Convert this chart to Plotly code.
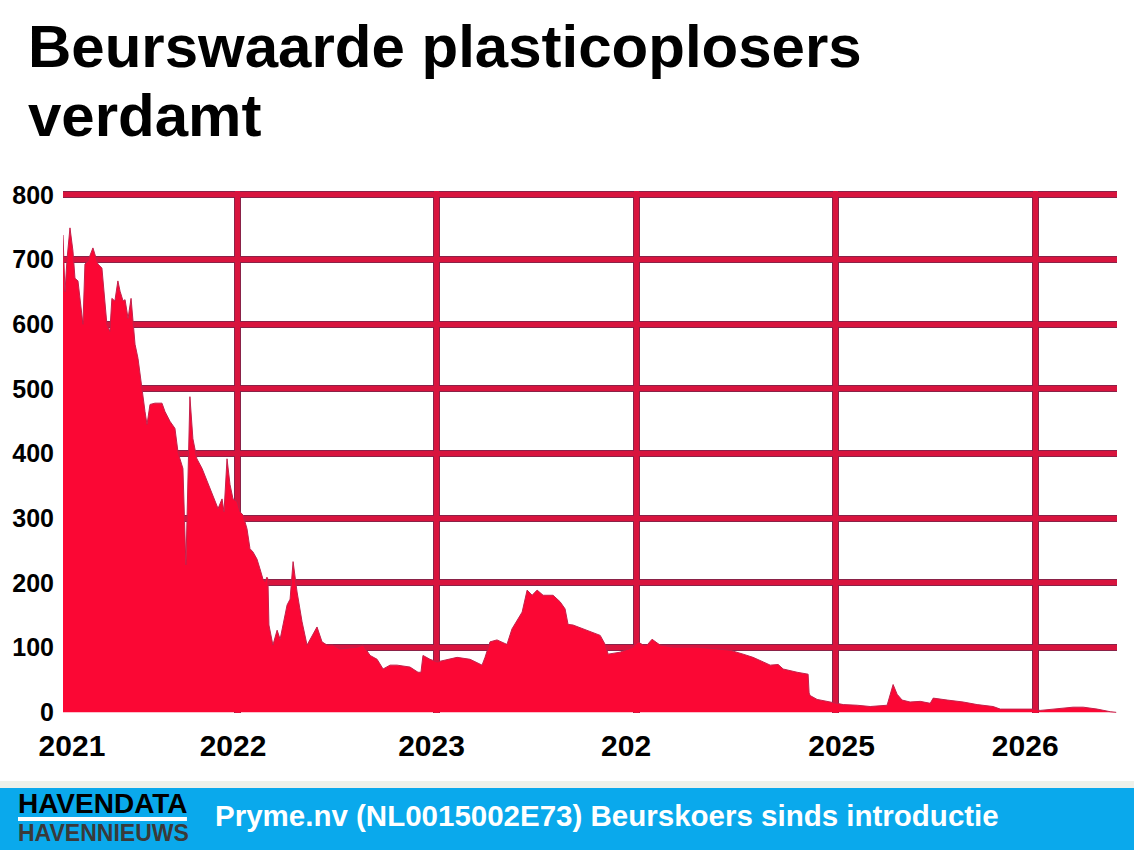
import plotly.graph_objects as go

# ---- data ----
years = [2021.128, 2021.138, 2021.148, 2021.163, 2021.178, 2021.188, 2021.203, 2021.223, 2021.228,
         2021.238, 2021.253, 2021.278, 2021.288, 2021.303, 2021.323, 2021.328, 2021.348, 2021.363,
         2021.373, 2021.388, 2021.403, 2021.414, 2021.429, 2021.439, 2021.454, 2021.469, 2021.479,
         2021.489, 2021.504, 2021.524, 2021.539, 2021.549, 2021.564, 2021.589, 2021.624, 2021.639,
         2021.664, 2021.689, 2021.704, 2021.714, 2021.729, 2021.744, 2021.754, 2021.764, 2021.779,
         2021.799, 2021.825, 2021.865, 2021.890, 2021.905, 2021.925, 2021.935, 2021.950, 2021.965,
         2021.980, 2022.000, 2022.015, 2022.030, 2022.050, 2022.065, 2022.080, 2022.100, 2022.115,
         2022.130, 2022.140, 2022.150, 2022.155, 2022.160, 2022.180, 2022.201, 2022.216, 2022.251,
         2022.266, 2022.281, 2022.301, 2022.326, 2022.351, 2022.376, 2022.401, 2022.426, 2022.451,
         2022.481, 2022.516, 2022.602, 2022.632, 2022.667, 2022.702, 2022.732, 2022.767, 2022.802,
         2022.867, 2022.907, 2022.922, 2022.932, 2022.967, 2023.003, 2023.053, 2023.103, 2023.168,
         2023.228, 2023.243, 2023.268, 2023.303, 2023.353, 2023.378, 2023.404, 2023.429, 2023.454,
         2023.479, 2023.504, 2023.534, 2023.584, 2023.619, 2023.644, 2023.659, 2023.684, 2023.734,
         2023.784, 2023.820, 2023.845, 2023.860, 2023.920, 2023.985, 2024.010, 2024.035, 2024.055,
         2024.080, 2024.120, 2024.185, 2024.306, 2024.406, 2024.471, 2024.536, 2024.586, 2024.637,
         2024.672, 2024.712, 2024.737, 2024.807, 2024.862, 2024.867, 2024.872, 2024.907, 2024.972,
         2025.038, 2025.108, 2025.173, 2025.258, 2025.273, 2025.288, 2025.308, 2025.333, 2025.373,
         2025.424, 2025.474, 2025.489, 2025.559, 2025.639, 2025.709, 2025.789, 2025.825, 2025.910,
         2025.990, 2026.025, 2026.110, 2026.190, 2026.241, 2026.311, 2026.376, 2026.406]

koers = [738, 650, 700, 749, 713, 671, 667, 609, 600,
         693, 698, 718, 708, 693, 687, 671, 600, 589,
         640, 636, 667, 651, 636, 638, 609, 640, 605,
         569, 547, 496, 465, 445, 476, 478, 478, 465,
         450, 439, 403, 392, 377, 228, 380, 488, 423,
         392, 377, 346, 329, 315, 330, 310, 392, 352,
         330, 326, 310, 305, 284, 253, 248, 237, 222,
         206, 202, 209, 206, 135, 104, 127, 113, 166,
         175, 233, 186, 140, 104, 119, 132, 109, 104,
         104, 98, 101, 104, 88, 82, 67, 73, 73,
         70, 62, 62, 88, 82, 78, 82, 85, 82,
         73, 85, 109, 112, 105, 129, 143, 155, 189,
         181, 189, 181, 181, 171, 160, 136, 135, 129,
         124, 119, 105, 90, 93, 101, 109, 104, 104,
         113, 104, 101, 101, 98, 96, 90, 85, 78,
         73, 74, 67, 62, 59, 30, 26, 20, 16,
         12, 11, 9, 11, 26, 43, 28, 19, 16,
         17, 14, 22, 19, 16, 12, 9, 5, 5,
         5, 3, 5, 8, 8, 5, 1, 0]

label_pos = [2021.173, 2021.980, 2022.975, 2023.950, 2025.030, 2025.950]
label_text = ["2021", "2022", "2023", "202", "2025", "2026"]
year_grid = [2022, 2023, 2024, 2025, 2026]
y_labels = [0, 100, 200, 300, 400, 500, 600, 700, 800]
y_grid = [100, 200, 300, 400, 500, 600, 700, 800]

title_1 = "Beurswaarde plasticoplosers"
title_2 = "verdamt"
source_text = "Pryme.nv (NL0015002E73) Beurskoers sinds introductie"

XR = [2021.128, 2026.41]
YR = [-1, 806]

FILL = "#fb0734"
GRID_DARK = "#8a2248"
GRID_RED = "#d8143e"
BLUE = "#0aa9ec"
FONT = "Liberation Sans, Arial, sans-serif"

fig = go.Figure()
fig.add_trace(go.Scatter(
    x=years, y=koers, mode="lines", fill="tozeroy",
    fillcolor=FILL, line=dict(color="#c4204a", width=1),
    hoverinfo="x+y", showlegend=False))
# empty traces to carry the two-tone grid layers
fig.add_trace(go.Scatter(x=[], y=[], xaxis="x2", yaxis="y2", showlegend=False, hoverinfo="skip"))
fig.add_trace(go.Scatter(x=[], y=[], xaxis="x3", yaxis="y3", showlegend=False, hoverinfo="skip"))

grid_common = dict(showticklabels=False, ticks="", zeroline=False, showline=False)

fig.update_layout(
    width=1134, height=850,
    margin=dict(l=63, r=17, t=191, b=137),
    paper_bgcolor="white", plot_bgcolor="white",
    font=dict(family=FONT, color="black"),
    xaxis=dict(range=XR, tickmode="array", tickvals=label_pos, ticktext=label_text,
               showgrid=False, zeroline=False, showline=False, ticks="",
               tickfont=dict(family=FONT, size=30, color="black", weight="bold"),
               ticklabelstandoff=12),
    yaxis=dict(range=YR, tickmode="array", tickvals=y_labels,
               showgrid=False, zeroline=False, showline=False, ticks="",
               tickfont=dict(family=FONT, size=25, color="black", weight="bold"),
               ticklabelstandoff=8),
    xaxis2=dict(overlaying="x", range=XR, tickmode="array", tickvals=year_grid,
                showgrid=True, gridcolor=GRID_DARK, gridwidth=7, **grid_common),
    yaxis2=dict(overlaying="y", range=YR, tickmode="array", tickvals=y_grid,
                showgrid=True, gridcolor=GRID_DARK, gridwidth=7, **grid_common),
    xaxis3=dict(overlaying="x", range=XR, tickmode="array", tickvals=year_grid,
                showgrid=True, gridcolor=GRID_RED, gridwidth=5, **grid_common),
    yaxis3=dict(overlaying="y", range=YR, tickmode="array", tickvals=y_grid,
                showgrid=True, gridcolor=GRID_RED, gridwidth=5, **grid_common),
)

# footer band
fig.add_shape(type="rect", xref="paper", yref="paper", x0=-0.07, x1=1.03, y0=-0.1437, y1=-0.1303,
              fillcolor="#eef1ea", line_width=0, layer="below")
fig.add_shape(type="rect", xref="paper", yref="paper", x0=-0.07, x1=1.03, y0=-0.275, y1=-0.1437,
              fillcolor=BLUE, line_width=0, layer="above")
fig.add_shape(type="rect", xref="paper", yref="paper", x0=-0.0427, x1=0.1176, y0=-0.2069, y1=-0.1992,
              fillcolor="white", line_width=0, layer="above")

annos = [
    dict(text=title_1, x=-0.0351, y=1.2759, size=60, color="black", weight="bold"),
    dict(text=title_2, x=-0.0351, y=1.1437, size=60, color="black", weight="bold"),
    dict(text="HAVENDATA", x=-0.0445, y=-0.1743, size=28, color="black", weight="bold"),
    dict(text="HAVENNIEUWS", x=-0.0445, y=-0.2299, size=23, color="#3a3a3a", weight="bold"),
    dict(text=source_text, x=0.1425, y=-0.1973, size=29.5, color="white", weight="bold"),
]
for a in annos:
    fig.add_annotation(text=a["text"], xref="paper", yref="paper", x=a["x"], y=a["y"],
                       xanchor="left", yanchor="middle", showarrow=False,
                       font=dict(family=FONT, size=a["size"], color=a["color"], weight=a["weight"]))

fig.write_html("out.html")
